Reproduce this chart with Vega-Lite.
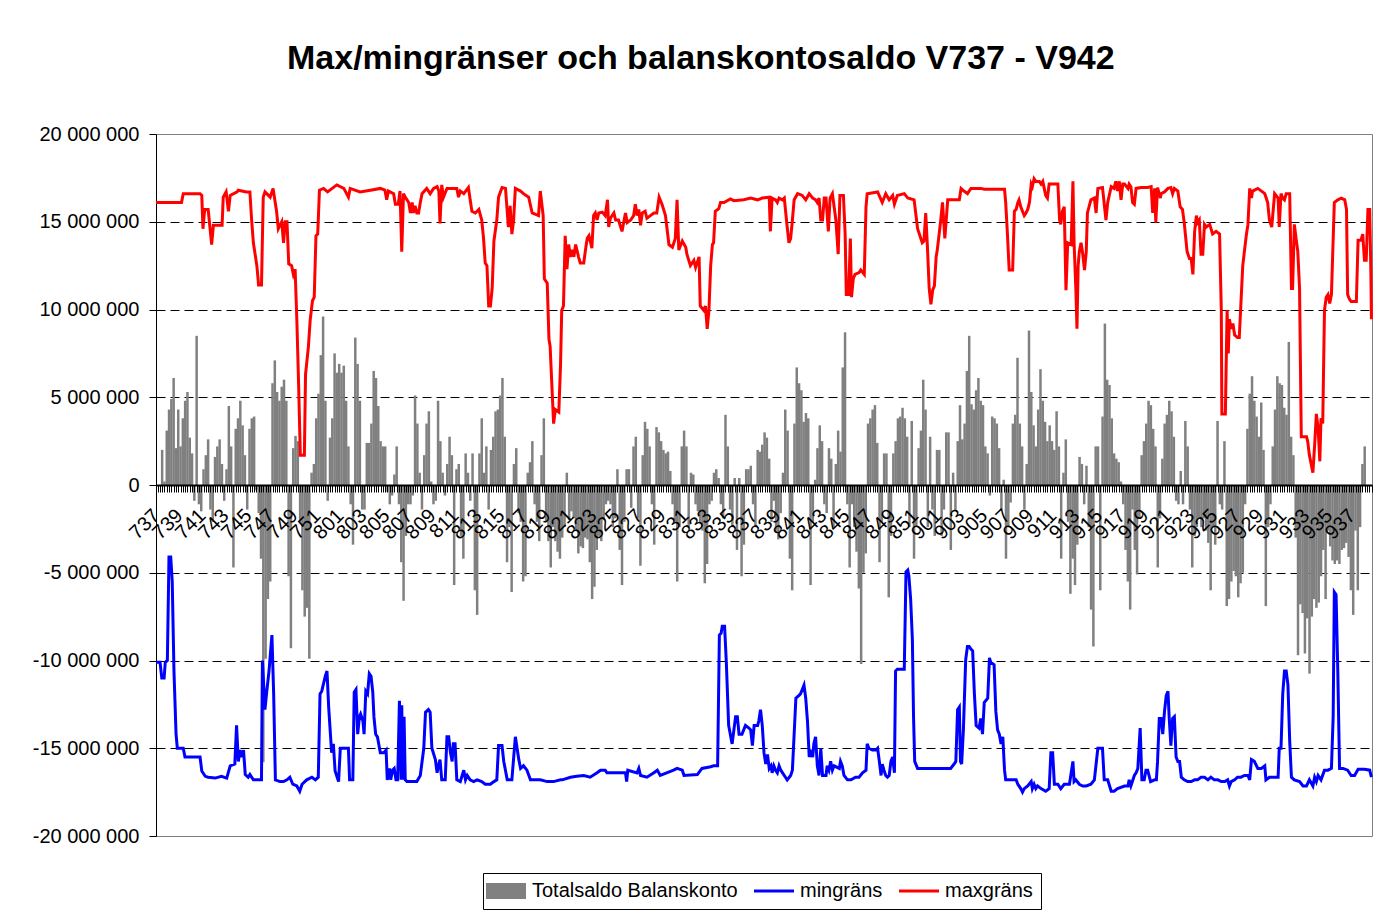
{
"$schema": "https://vega.github.io/schema/vega-lite/v6.json",
"width": 1216, "height": 702,
"autosize": {"type": "none"},
"padding": {"left": 156, "top": 134, "right": 22, "bottom": 78},
"background": "white",
"title": {"text": "Max/mingränser och balanskontosaldo V737 - V942", "font": "Liberation Sans", "fontSize": 34, "fontWeight": "bold", "color": "black", "anchor": "middle", "frame": "bounds", "baseline": "alphabetic", "offset": 21, "dx": -4},
"config": {"view": {"stroke": "#808080", "strokeWidth": 1}, "font": "Liberation Sans"},
"datasets": {
"bars": [
{"d":0,"s":2.0},{"d":1,"s":0.2},{"d":2,"s":3.1},{"d":3,"s":4.3},{"d":4,"s":4.9},{"d":5,"s":6.1},{"d":6,"s":2.1},{"d":7,"s":4.3},{"d":8,"s":2.2},{"d":9,"s":3.8},
{"d":10,"s":4.8},{"d":11,"s":5.3},{"d":12,"s":2.7},{"d":13,"s":1.8},{"d":14,"s":-0.9},{"d":15,"s":8.5},{"d":16,"s":-1.1},{"d":17,"s":-1.5},{"d":18,"s":0.9},{"d":19,"s":1.7},
{"d":20,"s":2.6},{"d":21,"s":-1.4},{"d":22,"s":-2.1},{"d":23,"s":1.6},{"d":24,"s":2.2},{"d":25,"s":2.6},{"d":26,"s":1.2},{"d":27,"s":-0.9},{"d":28,"s":0.9},{"d":29,"s":4.5},
{"d":30,"s":2.2},{"d":31,"s":-4.7},{"d":32,"s":3.2},{"d":33,"s":3.8},{"d":34,"s":4.8},{"d":35,"s":3.4},{"d":36,"s":1.7},{"d":37,"s":-1.4},{"d":38,"s":3.2},{"d":39,"s":3.8},
{"d":40,"s":3.9},{"d":41,"s":-0.3},{"d":42,"s":-1.6},{"d":43,"s":-4.2},{"d":44,"s":-15.8},{"d":45,"s":-9.9},{"d":46,"s":-6.5},{"d":47,"s":-5.5},{"d":48,"s":5.8},{"d":49,"s":7.1},
{"d":50,"s":5.3},{"d":51,"s":4.8},{"d":52,"s":5.6},{"d":53,"s":6.0},{"d":54,"s":4.8},{"d":55,"s":-5.2},{"d":56,"s":-9.3},{"d":57,"s":2.1},{"d":58,"s":2.8},{"d":59,"s":2.5},
{"d":60,"s":-2.1},{"d":61,"s":-6.0},{"d":62,"s":-7.5},{"d":63,"s":-7.0},{"d":64,"s":-9.9},{"d":65,"s":0.7},{"d":66,"s":1.2},{"d":67,"s":3.8},{"d":68,"s":5.2},{"d":69,"s":7.4},
{"d":70,"s":9.6},{"d":71,"s":4.8},{"d":72,"s":-0.9},{"d":73,"s":2.7},{"d":74,"s":3.8},{"d":75,"s":7.5},{"d":76,"s":6.4},{"d":77,"s":6.9},{"d":78,"s":6.4},{"d":79,"s":6.8},
{"d":80,"s":4.8},{"d":81,"s":2.2},{"d":82,"s":-1.1},{"d":83,"s":-3.4},{"d":84,"s":8.4},{"d":85,"s":6.9},{"d":86,"s":4.8},{"d":87,"s":-1.4},{"d":88,"s":-1.4},{"d":89,"s":2.4},
{"d":90,"s":2.4},{"d":91,"s":3.5},{"d":92,"s":6.5},{"d":93,"s":6.1},{"d":94,"s":4.5},{"d":95,"s":2.5},{"d":96,"s":2.2},{"d":97,"s":2.2},{"d":98,"s":-0.4},{"d":99,"s":-1.1},
{"d":100,"s":-0.6},{"d":101,"s":0.6},{"d":102,"s":2.2},{"d":103,"s":-1.1},{"d":104,"s":-4.4},{"d":105,"s":-6.6},{"d":106,"s":-2.9},{"d":107,"s":-1.1},{"d":108,"s":-1.1},{"d":109,"s":-0.6},
{"d":110,"s":5.1},{"d":111,"s":3.5},{"d":112,"s":0.7},{"d":113,"s":-1.4},{"d":114,"s":1.7},{"d":115,"s":3.5},{"d":116,"s":4.2},{"d":117,"s":0.2},{"d":118,"s":-1.1},{"d":119,"s":-0.9},
{"d":120,"s":4.8},{"d":121,"s":2.5},{"d":122,"s":0.7},{"d":123,"s":-0.6},{"d":124,"s":1.2},{"d":125,"s":2.75},{"d":126,"s":1.7},{"d":127,"s":-5.7},{"d":128,"s":0.9},{"d":129,"s":1.2},
{"d":130,"s":-2.9},{"d":131,"s":-4.2},{"d":132,"s":1.8},{"d":133,"s":0.7},{"d":134,"s":-0.9},{"d":135,"s":1.8},{"d":136,"s":-6.0},{"d":137,"s":-7.4},{"d":138,"s":1.8},{"d":139,"s":3.8},
{"d":140,"s":0.7},{"d":141,"s":2.2},{"d":142,"s":-1.4},{"d":143,"s":2.0},{"d":144,"s":2.75},{"d":145,"s":4.2},{"d":146,"s":4.3},{"d":147,"s":5.1},{"d":148,"s":6.1},{"d":149,"s":2.75},
{"d":150,"s":-4.4},{"d":151,"s":-2.4},{"d":152,"s":-6.1},{"d":153,"s":1.2},{"d":154,"s":2.1},{"d":155,"s":-1.6},{"d":156,"s":-2.1},{"d":157,"s":-5.5},{"d":158,"s":-5.2},{"d":159,"s":0.7},
{"d":160,"s":1.3},{"d":161,"s":2.5},{"d":162,"s":-1.1},{"d":163,"s":-2.1},{"d":164,"s":-3.2},{"d":165,"s":1.7},{"d":166,"s":3.8},{"d":167,"s":-2.1},{"d":168,"s":-3.2},{"d":169,"s":-4.7},
{"d":170,"s":-2.4},{"d":171,"s":-3.2},{"d":172,"s":-3.8},{"d":173,"s":-4.2},{"d":174,"s":-3.0},{"d":175,"s":-2.4},{"d":176,"s":0.7},{"d":177,"s":-2.0},{"d":178,"s":-1.5},{"d":179,"s":-1.9},
{"d":180,"s":-2.6},{"d":181,"s":-3.9},{"d":182,"s":-3.5},{"d":183,"s":-3.6},{"d":184,"s":-3.0},{"d":185,"s":-3.1},{"d":186,"s":-4.4},{"d":187,"s":-6.5},{"d":188,"s":-5.8},{"d":189,"s":-3.7},
{"d":190,"s":-2.9},{"d":191,"s":-3.2},{"d":192,"s":-2.0},{"d":193,"s":-1.1},{"d":194,"s":-0.9},{"d":195,"s":-1.1},{"d":196,"s":-2.4},{"d":197,"s":-1.9},{"d":198,"s":0.9},{"d":199,"s":-3.7},
{"d":200,"s":-5.7},{"d":201,"s":-2.1},{"d":202,"s":0.9},{"d":203,"s":0.9},{"d":204,"s":-1.3},{"d":205,"s":2.2},{"d":206,"s":2.75},{"d":207,"s":-1.9},{"d":208,"s":-4.6},{"d":209,"s":1.7},
{"d":210,"s":3.6},{"d":211,"s":3.2},{"d":212,"s":2.2},{"d":213,"s":-1.1},{"d":214,"s":-3.4},{"d":215,"s":3.3},{"d":216,"s":3.0},{"d":217,"s":2.5},{"d":218,"s":2.0},{"d":219,"s":1.8},
{"d":220,"s":1.9},{"d":221,"s":0.8},{"d":222,"s":-1.1},{"d":223,"s":-2.1},{"d":224,"s":-5.5},{"d":225,"s":-2.4},{"d":226,"s":2.2},{"d":227,"s":3.1},{"d":228,"s":2.2},{"d":229,"s":-2.4},
{"d":230,"s":0.7},{"d":231,"s":0.6},{"d":232,"s":-1.1},{"d":233,"s":-1.5},{"d":234,"s":-2.1},{"d":235,"s":-2.6},{"d":236,"s":-5.6},{"d":237,"s":-4.5},{"d":238,"s":-1.1},{"d":239,"s":-0.9},
{"d":240,"s":0.7},{"d":241,"s":0.9},{"d":242,"s":0.4},{"d":243,"s":-1.1},{"d":244,"s":-1.9},{"d":245,"s":4.0},{"d":246,"s":2.2},{"d":247,"s":-1.4},{"d":248,"s":-2.4},{"d":249,"s":0.4},
{"d":250,"s":-3.7},{"d":251,"s":0.4},{"d":252,"s":-5.2},{"d":253,"s":-3.4},{"d":254,"s":0.9},{"d":255,"s":0.9},{"d":256,"s":1.1},{"d":257,"s":-1.1},{"d":258,"s":-2.4},{"d":259,"s":2.0},
{"d":260,"s":1.9},{"d":261,"s":2.3},{"d":262,"s":3.0},{"d":263,"s":2.7},{"d":264,"s":1.5},{"d":265,"s":-2.1},{"d":266,"s":-0.9},{"d":267,"s":-2.6},{"d":268,"s":-3.1},{"d":269,"s":-1.6},
{"d":270,"s":0.7},{"d":271,"s":4.3},{"d":272,"s":3.1},{"d":273,"s":-4.2},{"d":274,"s":-6.0},{"d":275,"s":3.5},{"d":276,"s":6.7},{"d":277,"s":5.8},{"d":278,"s":5.4},{"d":279,"s":3.6},
{"d":280,"s":4.1},{"d":281,"s":3.8},{"d":282,"s":-5.7},{"d":283,"s":-2.1},{"d":284,"s":0.3},{"d":285,"s":2.1},{"d":286,"s":3.4},{"d":287,"s":2.5},{"d":288,"s":-1.1},{"d":289,"s":-1.6},
{"d":290,"s":2.1},{"d":291,"s":1.5},{"d":292,"s":-2.4},{"d":293,"s":1.2},{"d":294,"s":3.1},{"d":295,"s":1.9},{"d":296,"s":6.7},{"d":297,"s":8.7},{"d":298,"s":-1.1},{"d":299,"s":-4.7},
{"d":300,"s":-1.1},{"d":301,"s":-2.4},{"d":302,"s":-3.8},{"d":303,"s":-5.9},{"d":304,"s":-10.2},{"d":305,"s":-5.0},{"d":306,"s":-3.9},{"d":307,"s":3.5},{"d":308,"s":3.8},{"d":309,"s":4.3},
{"d":310,"s":4.55},{"d":311,"s":2.4},{"d":312,"s":-4.4},{"d":313,"s":-2.1},{"d":314,"s":1.8},{"d":315,"s":1.8},{"d":316,"s":-6.4},{"d":317,"s":-2.9},{"d":318,"s":1.8},{"d":319,"s":2.5},
{"d":320,"s":3.8},{"d":321,"s":3.9},{"d":322,"s":4.4},{"d":323,"s":3.8},{"d":324,"s":2.75},{"d":325,"s":-2.4},{"d":326,"s":3.65},{"d":327,"s":-4.2},{"d":328,"s":-2.4},{"d":329,"s":2.1},
{"d":330,"s":3.1},{"d":331,"s":6.0},{"d":332,"s":4.3},{"d":333,"s":-2.4},{"d":334,"s":2.75},{"d":335,"s":-1.4},{"d":336,"s":-2.9},{"d":337,"s":2.0},{"d":338,"s":2.0},{"d":339,"s":-2.9},
{"d":340,"s":-1.4},{"d":341,"s":3.0},{"d":342,"s":3.0},{"d":343,"s":-3.7},{"d":344,"s":0.7},{"d":345,"s":-1.4},{"d":346,"s":2.5},{"d":347,"s":4.55},{"d":348,"s":2.6},{"d":349,"s":3.5},
{"d":350,"s":6.5},{"d":351,"s":8.5},{"d":352,"s":4.6},{"d":353,"s":4.3},{"d":354,"s":5.4},{"d":355,"s":6.1},{"d":356,"s":4.8},{"d":357,"s":4.55},{"d":358,"s":2.2},{"d":359,"s":1.8},
{"d":360,"s":-0.6},{"d":361,"s":3.9},{"d":362,"s":3.8},{"d":363,"s":3.5},{"d":364,"s":2.1},{"d":365,"s":-1.4},{"d":366,"s":0.3},{"d":367,"s":-4.2},{"d":368,"s":-2.4},{"d":369,"s":-1.0},
{"d":370,"s":3.5},{"d":371,"s":4.0},{"d":372,"s":7.25},{"d":373,"s":3.5},{"d":374,"s":2.2},{"d":375,"s":-1.4},{"d":376,"s":1.2},{"d":377,"s":8.8},{"d":378,"s":5.3},{"d":379,"s":3.4},
{"d":380,"s":2.2},{"d":381,"s":4.3},{"d":382,"s":6.6},{"d":383,"s":4.8},{"d":384,"s":3.6},{"d":385,"s":2.5},{"d":386,"s":3.4},{"d":387,"s":2.5},{"d":388,"s":2.0},{"d":389,"s":4.2},
{"d":390,"s":2.2},{"d":391,"s":-4.2},{"d":392,"s":0.7},{"d":393,"s":2.6},{"d":394,"s":-2.1},{"d":395,"s":-6.2},{"d":396,"s":-4.2},{"d":397,"s":-5.7},{"d":398,"s":-3.4},{"d":399,"s":1.6},
{"d":400,"s":1.2},{"d":401,"s":-1.1},{"d":402,"s":1.1},{"d":403,"s":-2.4},{"d":404,"s":-7.1},{"d":405,"s":-9.2},{"d":406,"s":2.2},{"d":407,"s":2.2},{"d":408,"s":-6.0},{"d":409,"s":3.9},
{"d":410,"s":9.2},{"d":411,"s":6.0},{"d":412,"s":5.7},{"d":413,"s":3.8},{"d":414,"s":1.8},{"d":415,"s":1.5},{"d":416,"s":1.3},{"d":417,"s":0.2},{"d":418,"s":-1.1},{"d":419,"s":-3.7},
{"d":420,"s":-5.5},{"d":421,"s":-7.1},{"d":422,"s":-1.4},{"d":423,"s":-3.7},{"d":424,"s":-5.1},{"d":425,"s":-1.9},{"d":426,"s":1.7},{"d":427,"s":2.5},{"d":428,"s":3.5},{"d":429,"s":4.8},
{"d":430,"s":4.55},{"d":431,"s":3.2},{"d":432,"s":2.2},{"d":433,"s":-4.7},{"d":434,"s":-1.9},{"d":435,"s":1.5},{"d":436,"s":3.5},{"d":437,"s":4.0},{"d":438,"s":4.8},{"d":439,"s":4.2},
{"d":440,"s":2.75},{"d":441,"s":-0.9},{"d":442,"s":-1.1},{"d":443,"s":0.8},{"d":444,"s":-1.1},{"d":445,"s":3.65},{"d":446,"s":2.2},{"d":447,"s":-1.4},{"d":448,"s":-4.7},{"d":449,"s":-2.9},
{"d":450,"s":-2.4},{"d":451,"s":-1.9},{"d":452,"s":-2.4},{"d":453,"s":-1.9},{"d":454,"s":-2.6},{"d":455,"s":-3.3},{"d":456,"s":-6.0},{"d":457,"s":-2.4},{"d":458,"s":-3.4},{"d":459,"s":3.65},
{"d":460,"s":-1.1},{"d":461,"s":-1.4},{"d":462,"s":2.5},{"d":463,"s":-6.9},{"d":464,"s":-6.5},{"d":465,"s":-5.5},{"d":466,"s":-4.9},{"d":467,"s":-5.2},{"d":468,"s":-6.4},{"d":469,"s":-5.6},
{"d":470,"s":-5.0},{"d":471,"s":-1.1},{"d":472,"s":3.2},{"d":473,"s":5.2},{"d":474,"s":6.2},{"d":475,"s":4.8},{"d":476,"s":3.9},{"d":477,"s":2.75},{"d":478,"s":4.7},{"d":479,"s":2.0},
{"d":480,"s":-6.9},{"d":481,"s":-2.4},{"d":482,"s":-1.1},{"d":483,"s":2.2},{"d":484,"s":4.3},{"d":485,"s":6.2},{"d":486,"s":5.8},{"d":487,"s":5.7},{"d":488,"s":4.4},{"d":489,"s":4.0},
{"d":490,"s":8.15},{"d":491,"s":2.75},{"d":492,"s":1.7},{"d":493,"s":-3.0},{"d":494,"s":-9.7},{"d":495,"s":-6.8},{"d":496,"s":-7.3},{"d":497,"s":-9.6},{"d":498,"s":-7.6},{"d":499,"s":-10.75},
{"d":500,"s":-7.5},{"d":501,"s":-6.5},{"d":502,"s":-7.0},{"d":503,"s":-6.7},{"d":504,"s":-5.2},{"d":505,"s":-3.7},{"d":506,"s":-6.5},{"d":507,"s":-2.6},{"d":508,"s":-3.5},{"d":509,"s":-4.3},
{"d":510,"s":-4.5},{"d":511,"s":-4.3},{"d":512,"s":-4.5},{"d":513,"s":-3.7},{"d":514,"s":-3.6},{"d":515,"s":-3.3},{"d":516,"s":-4.1},{"d":517,"s":-6.0},{"d":518,"s":-7.4},{"d":519,"s":-2.6},
{"d":520,"s":-6.0},{"d":521,"s":-2.4},{"d":522,"s":1.2},{"d":523,"s":2.2}
],
"minl": [
{"w":0,"v":-10.1},{"w":0.35,"v":-10.1},{"w":0.5,"v":-11.0},{"w":0.7,"v":-11.0},{"w":0.8,"v":-10.1},{"w":0.98,"v":-10.0},{"w":1.12,"v":-4.1},{"w":1.27,"v":-4.1},{"w":1.4,"v":-5.5},{"w":1.55,"v":-10.6},{"w":1.73,"v":-14.2},{"w":1.84,"v":-15.0},{"w":2.35,"v":-15.0},{"w":2.5,"v":-15.5},{"w":3.8,"v":-15.5},{"w":3.95,"v":-16.3},{"w":4.25,"v":-16.6},{"w":4.5,"v":-16.65},{"w":5.1,"v":-16.7},{"w":5.65,"v":-16.6},{"w":6.1,"v":-16.7},{"w":6.4,"v":-16.0},{"w":6.8,"v":-15.9},{"w":6.95,"v":-13.7},{"w":7.1,"v":-15.75},{"w":7.25,"v":-15.1},{"w":7.4,"v":-15.5},{"w":7.55,"v":-15.1},{"w":7.7,"v":-16.5},{"w":7.95,"v":-16.65},{"w":8.1,"v":-16.5},{"w":8.4,"v":-16.8},{"w":9.1,"v":-16.8},{"w":9.18,"v":-10.0},{"w":9.4,"v":-12.8},{"w":9.55,"v":-11.8},{"w":9.75,"v":-10.6},{"w":10.0,"v":-8.55},{"w":10.15,"v":-11.9},{"w":10.3,"v":-16.8},{"w":10.7,"v":-16.9},{"w":11.0,"v":-16.9},{"w":11.3,"v":-16.8},{"w":11.55,"v":-16.65},{"w":11.8,"v":-17.05},{"w":12.15,"v":-17.15},{"w":12.4,"v":-17.45},{"w":12.6,"v":-17.05},{"w":13.0,"v":-16.8},{"w":13.45,"v":-16.65},{"w":13.75,"v":-16.8},{"w":14.0,"v":-16.65},{"w":14.15,"v":-11.9},{"w":14.3,"v":-11.75},{"w":14.6,"v":-10.9},{"w":14.75,"v":-10.6},{"w":14.9,"v":-12.7},{"w":15.15,"v":-15.25},{"w":15.3,"v":-14.75},{"w":15.45,"v":-16.3},{"w":15.75,"v":-16.9},{"w":15.9,"v":-15.0},{"w":16.2,"v":-15.0},{"w":16.6,"v":-15.0},{"w":16.7,"v":-16.8},{"w":16.98,"v":-16.8},
{"w":17.1,"v":-11.8},{"w":17.25,"v":-11.65},{"w":17.4,"v":-14.2},{"w":17.55,"v":-13.2},{"w":17.65,"v":-13.05},{"w":17.85,"v":-13.45},{"w":17.95,"v":-14.2},{"w":18.1,"v":-11.75},{"w":18.25,"v":-11.9},{"w":18.4,"v":-10.75},{"w":18.55,"v":-10.9},{"w":18.7,"v":-11.8},{"w":18.8,"v":-13.2},{"w":18.95,"v":-14.2},{"w":19.1,"v":-14.35},{"w":19.35,"v":-15.25},{"w":19.65,"v":-15.25},{"w":19.85,"v":-15.1},{"w":19.95,"v":-16.8},{"w":20.15,"v":-16.15},{"w":20.25,"v":-16.8},{"w":20.4,"v":-16.25},{"w":20.55,"v":-16.15},{"w":20.7,"v":-16.8},{"w":20.85,"v":-16.8},{"w":21.0,"v":-12.3},{"w":21.15,"v":-16.8},{"w":21.2,"v":-12.55},{"w":21.3,"v":-16.8},{"w":21.4,"v":-13.2},{"w":21.5,"v":-16.8},{"w":21.65,"v":-16.9},{"w":22.5,"v":-16.9},{"w":22.8,"v":-16.55},{"w":23.1,"v":-15.0},{"w":23.25,"v":-12.95},{"w":23.5,"v":-12.8},{"w":23.65,"v":-12.95},{"w":23.8,"v":-15.0},{"w":24.1,"v":-15.65},{"w":24.25,"v":-16.4},{"w":24.4,"v":-15.9},{"w":24.5,"v":-15.65},{"w":24.65,"v":-16.8},{"w":24.95,"v":-16.8},{"w":25.1,"v":-14.35},{"w":25.25,"v":-14.35},{"w":25.4,"v":-15.25},{"w":25.55,"v":-15.75},{"w":25.65,"v":-14.75},{"w":25.8,"v":-14.75},{"w":25.95,"v":-16.8},{"w":26.25,"v":-16.9},{"w":26.55,"v":-16.25},{"w":26.7,"v":-16.8},{"w":26.85,"v":-16.55},{"w":27.1,"v":-16.8},{"w":27.4,"v":-16.9},{"w":27.7,"v":-16.8},{"w":28.1,"v":-16.9},{"w":28.4,"v":-17.05},{"w":28.85,"v":-17.05},{"w":29.15,"v":-16.9},{"w":29.4,"v":-16.8},{"w":29.55,"v":-14.85},{"w":29.85,"v":-14.85},{"w":30.0,"v":-15.75},{"w":30.3,"v":-16.8},{"w":30.7,"v":-16.8},{"w":31.0,"v":-14.35},{"w":31.15,"v":-15.0},{"w":31.3,"v":-15.65},{"w":31.45,"v":-16.15},{"w":31.7,"v":-16.0},{"w":32.0,"v":-16.25},{"w":32.3,"v":-16.8},{"w":33.15,"v":-16.8},{"w":33.75,"v":-16.9},{"w":34.3,"v":-16.9},{"w":34.9,"v":-16.8},
{"w":35.05,"v":-16.8},{"w":35.75,"v":-16.65},{"w":36.3,"v":-16.6},{"w":36.9,"v":-16.55},{"w":37.45,"v":-16.65},{"w":38.05,"v":-16.4},{"w":38.35,"v":-16.25},{"w":38.75,"v":-16.25},{"w":38.9,"v":-16.4},{"w":40.5,"v":-16.4},{"w":40.6,"v":-16.9},{"w":40.7,"v":-16.25},{"w":41.5,"v":-16.4},{"w":41.65,"v":-16.15},{"w":41.8,"v":-16.55},{"w":42.35,"v":-16.65},{"w":42.95,"v":-16.4},{"w":43.25,"v":-16.25},{"w":43.5,"v":-16.55},{"w":44.65,"v":-16.25},{"w":44.95,"v":-16.15},{"w":45.4,"v":-16.25},{"w":45.55,"v":-16.55},{"w":46.7,"v":-16.5},{"w":47.1,"v":-16.15},{"w":47.85,"v":-16.05},{"w":48.1,"v":-16.0},{"w":48.45,"v":-16.0},{"w":48.6,"v":-8.55},{"w":48.75,"v":-8.45},{"w":48.85,"v":-8.05},{"w":49.05,"v":-8.05},{"w":49.2,"v":-10.1},{"w":49.4,"v":-13.7},{"w":49.7,"v":-14.75},{"w":50.0,"v":-13.2},{"w":50.15,"v":-13.2},{"w":50.3,"v":-14.2},{"w":50.55,"v":-14.2},{"w":50.85,"v":-13.7},{"w":51.15,"v":-13.85},{"w":51.3,"v":-13.95},{"w":51.45,"v":-14.85},{"w":51.6,"v":-13.7},{"w":51.9,"v":-13.7},{"w":52.0,"v":-13.45},{"w":52.15,"v":-12.8},{"w":52.3,"v":-13.7},{"w":52.45,"v":-15.25},{"w":52.6,"v":-15.9},{"w":52.75,"v":-15.35},{"w":52.9,"v":-16.15},{"w":53.05,"v":-16.0},{"w":53.15,"v":-16.4},{"w":53.3,"v":-16.0},{"w":53.45,"v":-16.25},{"w":53.6,"v":-16.4},{"w":53.75,"v":-16.0},{"w":53.9,"v":-16.25},{"w":54.05,"v":-16.4},{"w":54.3,"v":-16.65},{"w":54.45,"v":-16.8},{"w":54.75,"v":-16.55},{"w":54.9,"v":-16.25},{"w":55.05,"v":-14.2},{"w":55.2,"v":-12.15},{"w":55.45,"v":-12.0},{"w":55.6,"v":-11.9},{"w":55.75,"v":-11.65},{"w":55.9,"v":-11.4},{"w":56.05,"v":-12.15},{"w":56.2,"v":-13.45},{"w":56.35,"v":-15.5},{"w":56.5,"v":-15.25},{"w":56.65,"v":-15.5},{"w":56.75,"v":-14.75},{"w":56.9,"v":-14.35},{"w":57.05,"v":-16.0},{"w":57.2,"v":-16.55},{"w":57.35,"v":-15.0},{"w":57.5,"v":-16.55},{"w":57.8,"v":-16.55},{"w":57.9,"v":-16.0},{"w":58.05,"v":-16.25},{"w":58.2,"v":-15.75},{"w":58.35,"v":-16.25},{"w":58.5,"v":-16.0},{"w":58.95,"v":-16.15},{"w":59.05,"v":-15.75},{"w":59.2,"v":-16.0},{"w":59.35,"v":-16.55},{"w":59.65,"v":-16.8},{"w":59.95,"v":-16.8},{"w":60.35,"v":-16.65},{"w":60.65,"v":-16.65},{"w":60.95,"v":-16.4},{"w":61.25,"v":-16.25},{"w":61.35,"v":-14.75},{"w":61.5,"v":-15.0},{"w":61.8,"v":-15.1},{"w":62.1,"v":-15.1},{"w":62.25,"v":-15.0},{"w":62.4,"v":-15.75},{"w":62.55,"v":-16.55},{"w":62.65,"v":-15.9},{"w":62.8,"v":-16.25},{"w":62.95,"v":-16.55},{"w":63.1,"v":-16.65},{"w":63.25,"v":-16.55},{"w":63.4,"v":-15.75},{"w":63.55,"v":-15.5},{"w":63.7,"v":-16.4},{"w":63.8,"v":-10.6},{"w":63.95,"v":-10.5},{"w":64.55,"v":-10.5},{"w":64.7,"v":-4.95},{"w":64.85,"v":-4.85},{"w":64.95,"v":-5.2},{"w":65.1,"v":-6.5},{"w":65.25,"v":-8.8},{"w":65.35,"v":-13.2},{"w":65.45,"v":-15.75},{"w":65.7,"v":-16.15},{"w":68.55,"v":-16.15},{"w":68.85,"v":-15.9},{"w":69.0,"v":-15.75},{"w":69.15,"v":-12.8},{"w":69.3,"v":-12.65},{"w":69.4,"v":-15.75},{"w":69.5,"v":-15.9},{"w":69.65,"v":-13.95},{"w":69.85,"v":-9.95},{"w":70.0,"v":-9.2},{"w":70.15,"v":-9.2},{"w":70.3,"v":-9.35},{"w":70.45,"v":-9.45},{"w":70.6,"v":-11.9},{"w":70.75,"v":-13.7},{"w":71.0,"v":-13.85},{"w":71.15,"v":-13.3},{"w":71.3,"v":-14.2},{"w":71.45,"v":-12.4},{"w":71.75,"v":-12.15},{"w":71.9,"v":-9.85},{"w":72.0,"v":-10.1},{"w":72.3,"v":-10.25},{"w":72.45,"v":-12.9},{"w":72.6,"v":-13.95},{"w":72.75,"v":-14.2},{"w":72.9,"v":-14.75},{"w":73.05,"v":-14.35},{"w":73.2,"v":-16.25},{"w":73.3,"v":-16.8},{"w":74.2,"v":-16.8},{"w":74.35,"v":-17.05},{"w":74.6,"v":-17.3},{"w":74.75,"v":-17.5},{"w":74.9,"v":-17.3},{"w":75.2,"v":-17.15},{"w":75.5,"v":-16.9},{"w":75.6,"v":-17.3},{"w":75.75,"v":-17.05},{"w":75.9,"v":-17.3},{"w":76.05,"v":-17.15},{"w":76.35,"v":-17.3},{"w":76.75,"v":-17.45},{"w":77.05,"v":-17.3},{"w":77.2,"v":-15.25},{"w":77.35,"v":-15.25},{"w":77.5,"v":-17.05},{"w":77.8,"v":-17.05},{"w":78.05,"v":-17.3},{"w":78.35,"v":-17.05},{"w":78.8,"v":-17.05},{"w":79.1,"v":-15.75},{"w":79.2,"v":-16.9},{"w":79.35,"v":-16.8},{"w":79.65,"v":-17.05},{"w":79.95,"v":-17.15},{"w":80.25,"v":-17.15},{"w":80.65,"v":-17.05},{"w":80.95,"v":-16.8},{"w":81.25,"v":-15.0},{"w":81.65,"v":-15.0},{"w":81.8,"v":-16.8},{"w":82.1,"v":-16.8},{"w":82.4,"v":-17.45},{"w":82.65,"v":-17.45},{"w":82.95,"v":-17.3},{"w":83.55,"v":-17.15},{"w":83.85,"v":-17.15},{"w":83.95,"v":-16.8},{"w":84.1,"v":-17.15},{"w":84.4,"v":-16.55},{"w":84.55,"v":-16.4},{"w":84.7,"v":-16.15},{"w":84.9,"v":-13.85},{"w":85.05,"v":-16.8},{"w":85.25,"v":-16.8},{"w":85.4,"v":-16.25},{"w":85.55,"v":-16.25},{"w":85.8,"v":-16.9},{"w":86.15,"v":-16.8},{"w":86.3,"v":-16.8},{"w":86.4,"v":-15.75},{"w":86.55,"v":-13.3},{"w":86.7,"v":-13.3},{"w":86.85,"v":-14.2},{"w":87.0,"v":-12.9},{"w":87.15,"v":-12.0},{"w":87.3,"v":-11.75},{"w":87.4,"v":-13.2},{"w":87.55,"v":-14.85},{"w":87.7,"v":-13.3},{"w":87.85,"v":-13.2},{"w":88.0,"v":-15.5},{"w":88.15,"v":-15.75},{"w":88.3,"v":-15.75},{"w":88.45,"v":-16.65},{"w":88.7,"v":-16.8},{"w":89.0,"v":-16.9},{"w":89.3,"v":-16.9},{"w":89.6,"v":-16.8},{"w":89.85,"v":-16.8},{"w":90.15,"v":-16.65},{"w":90.45,"v":-16.65},{"w":90.75,"v":-16.8},{"w":91.0,"v":-16.65},{"w":91.3,"v":-16.8},{"w":91.6,"v":-16.8},{"w":91.9,"v":-16.9},{"w":92.2,"v":-16.9},{"w":92.45,"v":-16.8},{"w":92.6,"v":-17.15},{"w":92.75,"v":-16.9},{"w":93.05,"v":-16.8},{"w":93.3,"v":-16.65},{"w":93.6,"v":-16.65},{"w":93.9,"v":-16.55},{"w":94.2,"v":-16.55},{"w":94.35,"v":-16.8},{"w":94.5,"v":-15.65},{"w":94.75,"v":-15.75},{"w":95.05,"v":-16.15},{"w":95.35,"v":-16.15},{"w":95.65,"v":-16.0},{"w":95.75,"v":-16.8},{"w":96.05,"v":-16.65},{"w":96.8,"v":-16.65},{"w":96.9,"v":-15.0},{"w":97.05,"v":-15.0},{"w":97.2,"v":-11.9},{"w":97.35,"v":-10.6},{"w":97.5,"v":-10.6},{"w":97.65,"v":-11.4},{"w":97.8,"v":-14.6},{"w":97.95,"v":-16.65},{"w":98.2,"v":-16.8},{"w":98.65,"v":-16.9},{"w":98.95,"v":-17.15},{"w":99.25,"v":-17.15},{"w":99.5,"v":-16.8},{"w":99.8,"v":-17.15},{"w":99.95,"v":-16.65},{"w":100.1,"v":-16.9},{"w":100.25,"v":-16.55},{"w":100.5,"v":-16.8},{"w":100.8,"v":-16.25},{"w":101.1,"v":-16.25},{"w":101.4,"v":-16.15},{"w":101.55,"v":-13.2},{"w":101.65,"v":-6.1},{"w":101.8,"v":-6.25},{"w":101.95,"v":-10.6},{"w":102.1,"v":-16.15},{"w":102.4,"v":-16.15},{"w":102.8,"v":-16.25},{"w":103.1,"v":-16.55},{"w":103.4,"v":-16.55},{"w":103.7,"v":-16.2},{"w":104.25,"v":-16.2},{"w":104.7,"v":-16.25},{"w":104.85,"v":-16.65}
],
"maxl": [
{"w":0,"v":16.1},{"w":2.2,"v":16.1},{"w":2.35,"v":16.6},{"w":3.8,"v":16.6},{"w":3.95,"v":16.5},{"w":4.05,"v":14.6},{"w":4.2,"v":15.7},{"w":4.5,"v":15.7},{"w":4.65,"v":14.7},{"w":4.8,"v":13.7},{"w":4.95,"v":14.8},{"w":5.7,"v":14.8},{"w":5.8,"v":16.4},{"w":6.05,"v":16.7},{"w":6.25,"v":15.6},{"w":6.4,"v":16.5},{"w":7.0,"v":16.7},{"w":7.1,"v":16.8},{"w":7.8,"v":16.7},{"w":8.1,"v":16.7},{"w":8.25,"v":15.1},{"w":8.4,"v":13.8},{"w":8.7,"v":12.5},{"w":8.85,"v":11.4},{"w":9.1,"v":11.4},{"w":9.25,"v":16.4},{"w":9.4,"v":16.7},{"w":9.85,"v":16.4},{"w":10.1,"v":16.9},{"w":10.4,"v":15.6},{"w":10.55,"v":14.6},{"w":10.85,"v":15.0},{"w":11.0,"v":13.8},{"w":11.15,"v":15.0},{"w":11.3,"v":15.0},{"w":11.45,"v":12.6},{"w":11.7,"v":12.5},{"w":11.85,"v":12.0},{"w":12.0,"v":12.3},{"w":12.15,"v":9.4},{"w":12.3,"v":5.8},{"w":12.45,"v":1.7},{"w":12.8,"v":1.7},{"w":12.9,"v":6.3},{"w":13.15,"v":7.9},{"w":13.3,"v":9.4},{"w":13.5,"v":10.5},{"w":13.65,"v":10.7},{"w":13.8,"v":14.2},{"w":13.95,"v":14.3},{"w":14.1,"v":16.8},{"w":14.45,"v":16.9},{"w":14.8,"v":16.7},{"w":15.2,"v":16.9},{"w":15.6,"v":17.1},{"w":16.2,"v":16.9},{"w":16.6,"v":16.4},{"w":16.75,"v":16.9},
{"w":17.6,"v":16.7},{"w":18.5,"v":16.8},{"w":19.35,"v":16.9},{"w":19.75,"v":16.8},{"w":19.9,"v":16.25},{"w":20.05,"v":16.75},{"w":20.5,"v":16.6},{"w":20.65,"v":16.0},{"w":20.9,"v":16.0},{"w":21.05,"v":16.75},{"w":21.2,"v":13.3},{"w":21.35,"v":16.6},{"w":21.5,"v":16.4},{"w":21.8,"v":16.1},{"w":21.95,"v":15.5},{"w":22.1,"v":16.1},{"w":22.2,"v":15.5},{"w":22.35,"v":15.9},{"w":22.5,"v":15.5},{"w":22.65,"v":15.5},{"w":22.8,"v":16.1},{"w":22.95,"v":16.6},{"w":23.35,"v":16.9},{"w":23.65,"v":16.6},{"w":23.95,"v":16.9},{"w":24.25,"v":17.0},{"w":24.4,"v":16.75},{"w":24.5,"v":14.9},{"w":24.65,"v":17.1},{"w":24.8,"v":16.4},{"w":25.1,"v":16.9},{"w":25.95,"v":16.9},{"w":26.1,"v":16.4},{"w":26.25,"v":16.75},{"w":26.55,"v":16.6},{"w":26.95,"v":16.95},{"w":27.25,"v":15.6},{"w":27.55,"v":15.5},{"w":27.85,"v":15.7},{"w":28.1,"v":15.1},{"w":28.25,"v":14.1},{"w":28.4,"v":12.65},{"w":28.55,"v":12.5},{"w":28.7,"v":10.2},{"w":28.85,"v":10.2},{"w":29.0,"v":11.2},{"w":29.15,"v":13.9},{"w":29.4,"v":15.1},{"w":29.55,"v":16.4},{"w":29.85,"v":16.95},{"w":30.15,"v":16.9},{"w":30.4,"v":14.7},{"w":30.55,"v":15.9},{"w":30.7,"v":14.3},{"w":30.85,"v":15.1},{"w":31.0,"v":16.9},{"w":31.45,"v":16.75},{"w":31.7,"v":16.6},{"w":32.15,"v":16.4},{"w":32.45,"v":15.5},{"w":33.0,"v":15.35},{"w":33.15,"v":16.75},{"w":33.4,"v":15.35},{"w":33.5,"v":11.75},{"w":33.75,"v":11.5},{"w":33.9,"v":8.3},{"w":34.0,"v":7.9},{"w":34.3,"v":3.5},{"w":34.45,"v":4.3},{"w":34.75,"v":4.15},{"w":34.9,"v":6.9},
{"w":35.0,"v":9.95},{"w":35.15,"v":10.2},{"w":35.3,"v":14.2},{"w":35.45,"v":12.3},{"w":35.6,"v":13.7},{"w":35.75,"v":13.0},{"w":35.9,"v":13.4},{"w":36.05,"v":13.0},{"w":36.2,"v":13.7},{"w":36.45,"v":13.0},{"w":36.6,"v":12.65},{"w":36.9,"v":12.65},{"w":37.05,"v":13.4},{"w":37.2,"v":14.05},{"w":37.35,"v":14.2},{"w":37.5,"v":13.8},{"w":37.6,"v":13.5},{"w":37.75,"v":15.35},{"w":37.9,"v":15.5},{"w":38.05,"v":15.1},{"w":38.2,"v":15.5},{"w":38.5,"v":15.55},{"w":38.75,"v":15.35},{"w":38.95,"v":16.25},{"w":39.05,"v":14.7},{"w":39.2,"v":15.2},{"w":39.5,"v":15.5},{"w":39.65,"v":15.1},{"w":39.9,"v":15.1},{"w":40.2,"v":14.45},{"w":40.5,"v":15.5},{"w":40.65,"v":14.95},{"w":40.95,"v":15.1},{"w":41.2,"v":15.35},{"w":41.35,"v":16.0},{"w":41.5,"v":15.35},{"w":41.65,"v":15.7},{"w":41.8,"v":14.8},{"w":41.95,"v":15.5},{"w":42.2,"v":15.6},{"w":42.35,"v":15.2},{"w":42.65,"v":15.35},{"w":42.95,"v":15.5},{"w":43.2,"v":15.5},{"w":43.4,"v":16.4},{"w":43.65,"v":16.0},{"w":43.95,"v":15.35},{"w":44.25,"v":13.7},{"w":44.55,"v":13.55},{"w":44.8,"v":14.05},{"w":44.95,"v":16.25},{"w":45.1,"v":13.4},{"w":45.4,"v":13.9},{"w":45.7,"v":13.55},{"w":45.8,"v":13.15},{"w":46.1,"v":12.5},{"w":46.4,"v":12.8},{"w":46.55,"v":12.4},{"w":46.85,"v":13.0},{"w":46.95,"v":10.2},{"w":47.25,"v":9.95},{"w":47.4,"v":10.2},{"w":47.55,"v":8.9},{"w":47.7,"v":9.95},{"w":47.85,"v":12.5},{"w":48.0,"v":13.7},{"w":48.1,"v":13.8},{"w":48.25,"v":15.6},{"w":48.55,"v":15.75},{"w":48.7,"v":16.1},{"w":49.0,"v":16.1},{"w":49.55,"v":16.3},{"w":49.85,"v":16.2},{"w":50.7,"v":16.25},{"w":51.3,"v":16.35},
{"w":51.9,"v":16.25},{"w":52.3,"v":16.35},{"w":52.9,"v":16.4},{"w":53.0,"v":14.45},{"w":53.15,"v":16.35},{"w":53.45,"v":16.25},{"w":53.6,"v":16.1},{"w":53.75,"v":16.35},{"w":54.05,"v":16.25},{"w":54.2,"v":16.35},{"w":54.45,"v":14.7},{"w":54.6,"v":13.8},{"w":54.75,"v":14.05},{"w":54.9,"v":15.1},{"w":55.05,"v":16.25},{"w":55.35,"v":16.6},{"w":55.75,"v":16.5},{"w":56.05,"v":16.25},{"w":56.35,"v":16.6},{"w":56.65,"v":16.35},{"w":56.9,"v":16.25},{"w":57.05,"v":16.1},{"w":57.2,"v":16.35},{"w":57.35,"v":15.1},{"w":57.5,"v":15.1},{"w":57.65,"v":16.35},{"w":57.8,"v":16.35},{"w":58.0,"v":14.45},{"w":58.15,"v":16.35},{"w":58.35,"v":16.6},{"w":58.65,"v":15.1},{"w":58.85,"v":13.15},{"w":59.0,"v":16.5},{"w":59.3,"v":16.5},{"w":59.45,"v":14.3},{"w":59.55,"v":10.85},{"w":59.75,"v":10.85},{"w":59.9,"v":14.05},{"w":60.0,"v":10.7},{"w":60.15,"v":11.75},{"w":60.3,"v":12.0},{"w":60.65,"v":12.1},{"w":60.8,"v":12.25},{"w":61.1,"v":12.0},{"w":61.25,"v":15.85},{"w":61.35,"v":16.6},{"w":62.25,"v":16.7},{"w":62.65,"v":16.1},{"w":62.95,"v":16.6},{"w":63.25,"v":16.25},{"w":63.55,"v":16.5},{"w":63.7,"v":16.0},{"w":63.95,"v":16.5},{"w":64.55,"v":16.6},{"w":64.85,"v":16.35},{"w":65.4,"v":16.25},{"w":65.7,"v":14.6},{"w":66.1,"v":13.8},{"w":66.25,"v":13.9},{"w":66.4,"v":15.5},{"w":66.55,"v":13.55},{"w":66.7,"v":11.2},{"w":66.85,"v":10.3},{"w":67.0,"v":11.1},{"w":67.15,"v":11.35},{"w":67.3,"v":13.0},{"w":67.4,"v":13.4},{"w":67.7,"v":15.1},{"w":67.85,"v":16.1},{"w":68.05,"v":14.05},{"w":68.3,"v":16.25},
{"w":69.3,"v":16.25},{"w":69.45,"v":16.9},{"w":69.7,"v":16.75},{"w":70.0,"v":16.6},{"w":70.3,"v":16.9},{"w":71.15,"v":16.9},{"w":71.45,"v":16.85},{"w":73.2,"v":16.85},{"w":73.3,"v":16.1},{"w":73.45,"v":14.3},{"w":73.6,"v":12.25},{"w":73.9,"v":12.25},{"w":74.05,"v":15.6},{"w":74.2,"v":15.7},{"w":74.35,"v":16.1},{"w":74.45,"v":16.25},{"w":74.6,"v":15.85},{"w":74.75,"v":15.6},{"w":74.9,"v":15.35},{"w":75.05,"v":15.5},{"w":75.2,"v":15.7},{"w":75.35,"v":16.1},{"w":75.5,"v":17.15},{"w":75.6,"v":17.0},{"w":75.75,"v":17.45},{"w":75.9,"v":17.3},{"w":76.2,"v":17.3},{"w":76.35,"v":17.15},{"w":76.5,"v":17.3},{"w":76.75,"v":16.5},{"w":76.9,"v":16.35},{"w":77.05,"v":17.15},{"w":77.8,"v":17.15},{"w":77.95,"v":15.1},{"w":78.05,"v":14.85},{"w":78.2,"v":15.6},{"w":78.35,"v":15.85},{"w":78.5,"v":11.1},{"w":78.65,"v":13.8},{"w":78.95,"v":13.7},{"w":79.1,"v":17.3},{"w":79.2,"v":13.8},{"w":79.35,"v":11.2},{"w":79.45,"v":8.9},{"w":79.55,"v":12.5},{"w":79.65,"v":13.3},{"w":79.8,"v":13.8},{"w":79.95,"v":13.15},{"w":80.1,"v":12.25},{"w":80.25,"v":13.3},{"w":80.35,"v":15.5},{"w":80.65,"v":16.25},{"w":80.95,"v":16.35},{"w":81.1,"v":15.5},{"w":81.25,"v":16.9},{"w":81.65,"v":16.95},{"w":81.95,"v":15.1},{"w":82.1,"v":16.1},{"w":82.4,"v":17.0},{"w":82.65,"v":16.9},{"w":82.8,"v":17.3},{"w":82.95,"v":16.75},{"w":83.1,"v":17.3},{"w":83.25,"v":16.25},{"w":83.4,"v":17.15},{"w":83.55,"v":17.15},{"w":83.85,"v":16.9},{"w":83.95,"v":17.15},{"w":84.1,"v":17.0},{"w":84.25,"v":16.1},{"w":84.4,"v":16.0},{"w":84.55,"v":16.9},{"w":85.0,"v":16.95},{"w":85.55,"v":16.95},{"w":85.85,"v":17.0},
{"w":85.98,"v":15.5},{"w":86.15,"v":16.9},{"w":86.25,"v":14.95},{"w":86.4,"v":16.95},{"w":86.65,"v":16.35},{"w":86.7,"v":16.6},{"w":87.0,"v":16.7},{"w":87.3,"v":16.9},{"w":87.55,"v":16.95},{"w":87.7,"v":16.6},{"w":87.85,"v":16.9},{"w":88.15,"v":16.75},{"w":88.35,"v":15.85},{"w":88.55,"v":15.7},{"w":88.7,"v":14.95},{"w":88.95,"v":13.3},{"w":89.15,"v":12.9},{"w":89.3,"v":12.9},{"w":89.45,"v":12.0},{"w":89.6,"v":14.45},{"w":89.75,"v":15.35},{"w":89.85,"v":14.95},{"w":90.0,"v":15.1},{"w":90.15,"v":13.15},{"w":90.3,"v":13.15},{"w":90.45,"v":14.85},{"w":90.6,"v":14.7},{"w":90.9,"v":14.85},{"w":91.15,"v":14.3},{"w":91.45,"v":14.45},{"w":91.75,"v":14.3},{"w":91.9,"v":9.95},{"w":91.95,"v":4.05},{"w":92.25,"v":4.05},{"w":92.4,"v":9.95},{"w":92.5,"v":7.5},{"w":92.6,"v":9.45},{"w":92.75,"v":8.9},{"w":92.9,"v":9.2},{"w":93.05,"v":8.55},{"w":93.3,"v":8.4},{"w":93.45,"v":8.4},{"w":93.75,"v":12.5},{"w":94.05,"v":14.2},{"w":94.2,"v":14.85},{"w":94.35,"v":16.9},{"w":94.5,"v":16.35},{"w":94.6,"v":16.75},{"w":95.05,"v":16.9},{"w":95.65,"v":16.6},{"w":95.9,"v":16.1},{"w":96.05,"v":15.1},{"w":96.25,"v":14.7},{"w":96.5,"v":16.6},{"w":96.8,"v":16.35},{"w":96.9,"v":14.7},{"w":97.05,"v":16.6},{"w":97.2,"v":16.35},{"w":97.35,"v":16.25},{"w":97.5,"v":16.6},{"w":97.8,"v":16.6},{"w":97.95,"v":11.2},{"w":98.05,"v":11.2},{"w":98.2,"v":14.85},{"w":98.35,"v":14.05},{"w":98.5,"v":13.3},{"w":98.65,"v":11.2},{"w":98.8,"v":2.75},{"w":99.25,"v":2.75},{"w":99.35,"v":2.5},{"w":99.5,"v":1.7},{"w":99.8,"v":0.7},{"w":99.95,"v":2.25},{"w":100.1,"v":4.05},{"w":100.25,"v":3.25},{"w":100.4,"v":1.35},{"w":100.5,"v":3.8},{"w":100.65,"v":3.5},{"w":100.8,"v":9.95},{"w":100.95,"v":10.7},{"w":101.1,"v":10.85},{"w":101.25,"v":10.35},{"w":101.4,"v":10.85},{"w":101.65,"v":16.1},{"w":101.95,"v":16.25},{"w":102.25,"v":16.35},{"w":102.55,"v":16.25},{"w":102.7,"v":15.7},{"w":102.8,"v":10.85},{"w":102.95,"v":10.6},{"w":103.1,"v":10.45},{"w":103.55,"v":10.45},{"w":103.7,"v":13.95},{"w":103.95,"v":13.95},{"w":104.1,"v":14.3},{"w":104.25,"v":12.8},{"w":104.4,"v":12.8},{"w":104.55,"v":15.7},{"w":104.7,"v":15.7},{"w":104.8,"v":12.25},{"w":104.85,"v":9.45}
]
},
"layer": [
{
"data": {"name": "bars"},
"mark": {"type": "bar", "orient": "vertical", "size": 2.5},
"encoding": {
"x": {"field": "d", "type": "quantitative", "scale": {"domain": [-0.5, 524], "nice": false, "zero": false},
 "axis": {"title": null, "orient": "bottom", "offset": -351, "tickCount": 524, "labelOverlap": false, "labelFlush": false, "labelBound": false,
  "labelExpr": "datum.value % 10 != 0 ? '' : datum.value < 80 ? '7' + (37 + datum.value / 5) : datum.value < 340 ? '8' + (datum.value < 130 ? '0' : '') + (datum.value / 5 - 15) : '9' + (datum.value < 390 ? '0' : '') + (datum.value / 5 - 67)",
  "labelAngle": -45, "labelAlign": "right", "labelBaseline": "top", "labelFont": "Liberation Sans", "labelFontSize": 20, "labelColor": "black", "labelPadding": 13, "labelOffset": -13,
  "tickSize": 7, "tickColor": "black", "tickWidth": 1, "domainColor": "black", "domainWidth": 2, "grid": false, "zindex": 1}},
"y": {"field": "s", "type": "quantitative", "title": null, "scale": {"domain": [-20, 20], "nice": false},
 "axis": {"title": null, "values": [-20, -15, -10, -5, 0, 5, 10, 15, 20],
  "labelExpr": "replace(replace(format(datum.value * 1000000, ','), regexp(',', 'g'), ' '), '−', '-')",
  "labelFont": "Liberation Sans", "labelFontSize": 20, "labelColor": "black", "labelPadding": 10,
  "grid": true, "gridColor": "black", "gridDash": [9, 5], "gridWidth": 1,
  "gridOpacity": {"condition": {"test": "abs(datum.value) == 20 || datum.value == 0", "value": 0}, "value": 1},
  "tickSize": 7, "tickColor": "black", "domainColor": "black", "domainWidth": 1}},
"color": {"datum": "Totalsaldo Balanskonto", "type": "nominal",
 "scale": {"domain": ["Totalsaldo Balanskonto", "mingräns", "maxgräns"], "range": ["#808080", "#0000FF", "#FF0000"]},
 "legend": {"title": null, "orient": "none", "legendX": 327, "legendY": 739, "direction": "horizontal",
  "labelFont": "Liberation Sans", "labelFontSize": 20, "labelColor": "black", "labelLimit": 400,
  "symbolSize": 900, "symbolStrokeWidth": 3, "symbolOffset": 5, "labelOffset": 16, "columnPadding": 10,
  "padding": 8, "strokeColor": "black", "fillColor": "white",
  "encode": {"symbols": {"update": {
   "shape": {"signal": "datum.value === 'Totalsaldo Balanskonto' ? 'M-1.333,-0.533H1.333V0.533H-1.333Z' : 'M-1.333,0H1.333'"},
   "fill": {"signal": "datum.value === 'Totalsaldo Balanskonto' ? '#808080' : 'transparent'"},
   "stroke": {"signal": "datum.value === 'Totalsaldo Balanskonto' ? '#808080' : datum.value === 'mingräns' ? '#0000FF' : '#FF0000'"},
   "strokeWidth": {"signal": "datum.value === 'Totalsaldo Balanskonto' ? 0 : 3"},
   "opacity": {"value": 1}}}}}}
}
},
{
"data": {"name": "minl"},
"mark": {"type": "line", "strokeWidth": 3},
"encoding": {
"x": {"field": "w", "type": "quantitative", "scale": {"domain": [0, 104.9], "nice": false, "zero": false}, "axis": null},
"y": {"field": "v", "type": "quantitative", "title": null},
"color": {"datum": "mingräns", "type": "nominal"}
}
},
{
"data": {"name": "maxl"},
"mark": {"type": "line", "strokeWidth": 3},
"encoding": {
"x": {"field": "w", "type": "quantitative", "scale": {"domain": [0, 104.9], "nice": false, "zero": false}, "axis": null},
"y": {"field": "v", "type": "quantitative", "title": null},
"color": {"datum": "maxgräns", "type": "nominal"}
}
}
],
"resolve": {"scale": {"x": "independent"}}
}
